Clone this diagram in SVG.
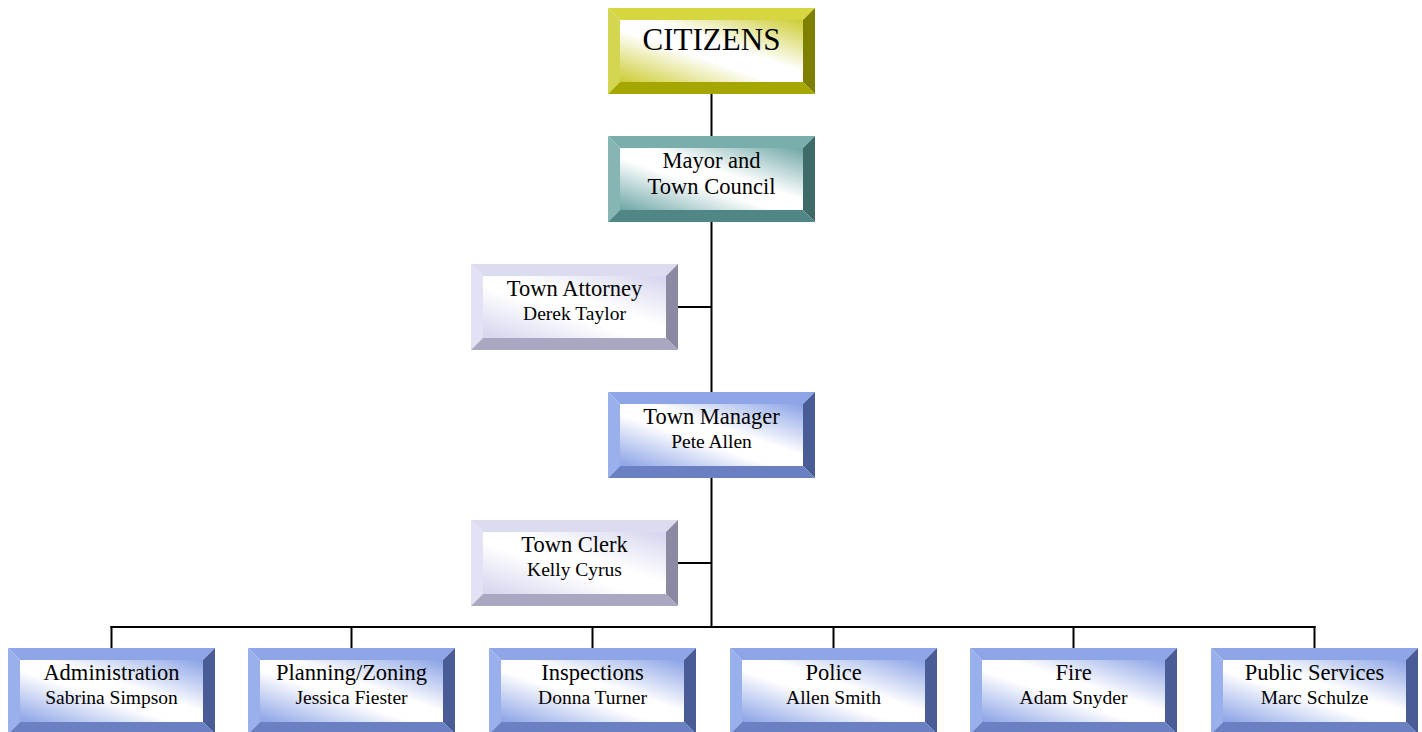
<svg xmlns="http://www.w3.org/2000/svg" xmlns:xlink="http://www.w3.org/1999/xlink" width="1422" height="732" viewBox="0 0 1422 732">
<style>
text{font-family:"Liberation Serif","Times New Roman",serif;fill:#000;text-anchor:middle}
.t1{font-size:22.5px}
.t2{font-size:19.5px}
.big{font-size:31px}
.mt{font-size:22.5px}
.conn line{stroke:#000;stroke-width:2;fill:none}
</style>
<defs>
<linearGradient id="gY" x1="1" y1="0" x2="0" y2="1"><stop offset="0" stop-color="#cccc33"/><stop offset="0.42" stop-color="#fff"/><stop offset="0.58" stop-color="#fff"/><stop offset="1" stop-color="#cccc33"/></linearGradient>
<linearGradient id="gT" x1="1" y1="0" x2="0" y2="1"><stop offset="0" stop-color="#6fa6a6"/><stop offset="0.42" stop-color="#fff"/><stop offset="0.58" stop-color="#fff"/><stop offset="1" stop-color="#6fa6a6"/></linearGradient>
<linearGradient id="gL" x1="1" y1="0" x2="0" y2="1"><stop offset="0" stop-color="#d4d4ee"/><stop offset="0.42" stop-color="#fff"/><stop offset="0.58" stop-color="#fff"/><stop offset="1" stop-color="#d4d4ee"/></linearGradient>
<linearGradient id="gB" x1="1" y1="0" x2="0" y2="1"><stop offset="0" stop-color="#8aa2e6"/><stop offset="0.42" stop-color="#fff"/><stop offset="0.58" stop-color="#fff"/><stop offset="1" stop-color="#8aa2e6"/></linearGradient>
<g id="boxY">
<polygon points="0,0 207,0 195,12 12,12" fill="#d6d640"/>
<polygon points="0,0 12,12 12,74 0,86" fill="#d2d650"/>
<polygon points="207,0 207,86 195,74 195,12" fill="#7e7e00"/>
<polygon points="0,86 12,74 195,74 207,86" fill="#a6a600"/>
<rect x="12" y="12" width="183" height="62" fill="url(#gY)"/>
</g>
<g id="boxT">
<polygon points="0,0 207,0 195,12 12,12" fill="#7aaeac"/>
<polygon points="0,0 12,12 12,74 0,86" fill="#86b6b4"/>
<polygon points="207,0 207,86 195,74 195,12" fill="#3e6a6a"/>
<polygon points="0,86 12,74 195,74 207,86" fill="#508786"/>
<rect x="12" y="12" width="183" height="62" fill="url(#gT)"/>
</g>
<g id="boxL">
<polygon points="0,0 207,0 195,12 12,12" fill="#dcdcf0"/>
<polygon points="0,0 12,12 12,74 0,86" fill="#e2e2f4"/>
<polygon points="207,0 207,86 195,74 195,12" fill="#8a8aa2"/>
<polygon points="0,86 12,74 195,74 207,86" fill="#a8a8c2"/>
<rect x="12" y="12" width="183" height="62" fill="url(#gL)"/>
</g>
<g id="boxB">
<polygon points="0,0 207,0 195,12 12,12" fill="#8ea6e8"/>
<polygon points="0,0 12,12 12,74 0,86" fill="#9ab0ec"/>
<polygon points="207,0 207,86 195,74 195,12" fill="#4a5c96"/>
<polygon points="0,86 12,74 195,74 207,86" fill="#6a80c2"/>
<rect x="12" y="12" width="183" height="62" fill="url(#gB)"/>
</g>
</defs>
<rect width="1422" height="732" fill="#fff"/>
<g id="connectors" class="conn">
<line x1="711.5" y1="94" x2="711.5" y2="628"/>
<line x1="678" y1="307" x2="711.5" y2="307"/>
<line x1="678" y1="563" x2="711.5" y2="563"/>
<line x1="110.5" y1="627" x2="1315.5" y2="627"/>
<line x1="111.5" y1="626" x2="111.5" y2="648"/>
<line x1="351.5" y1="626" x2="351.5" y2="648"/>
<line x1="592.5" y1="626" x2="592.5" y2="648"/>
<line x1="833.5" y1="626" x2="833.5" y2="648"/>
<line x1="1073.5" y1="626" x2="1073.5" y2="648"/>
<line x1="1314.5" y1="626" x2="1314.5" y2="648"/>
</g>
<g id="citizens" transform="translate(608,8)"><use xlink:href="#boxY"/><text class="big" x="103.5" y="42">CITIZENS</text></g>
<g id="mayor" transform="translate(608,136)"><use xlink:href="#boxT"/><text class="mt" x="103.5" y="32">Mayor and</text><text class="mt" x="103.5" y="58">Town Council</text></g>
<g id="attorney" transform="translate(471,264)"><use xlink:href="#boxL"/><text class="t1" x="103.5" y="32">Town Attorney</text><text class="t2" x="103.5" y="56">Derek Taylor</text></g>
<g id="manager" transform="translate(608,392)"><use xlink:href="#boxB"/><text class="mt" x="103.5" y="32">Town Manager</text><text class="t2" x="103.5" y="56">Pete Allen</text></g>
<g id="clerk" transform="translate(471,520)"><use xlink:href="#boxL"/><text class="t1" x="103.5" y="32">Town Clerk</text><text class="t2" x="103.5" y="56">Kelly Cyrus</text></g>
<g id="administration" transform="translate(8,648)"><use xlink:href="#boxB"/><text class="t1" x="103.5" y="32">Administration</text><text class="t2" x="103.5" y="56">Sabrina Simpson</text></g>
<g id="planning" transform="translate(248,648)"><use xlink:href="#boxB"/><text class="t1" x="103.5" y="32">Planning/Zoning</text><text class="t2" x="103.5" y="56">Jessica Fiester</text></g>
<g id="inspections" transform="translate(489,648)"><use xlink:href="#boxB"/><text class="t1" x="103.5" y="32">Inspections</text><text class="t2" x="103.5" y="56">Donna Turner</text></g>
<g id="police" transform="translate(730,648)"><use xlink:href="#boxB"/><text class="t1" x="103.5" y="32">Police</text><text class="t2" x="103.5" y="56">Allen Smith</text></g>
<g id="fire" transform="translate(970,648)"><use xlink:href="#boxB"/><text class="t1" x="103.5" y="32">Fire</text><text class="t2" x="103.5" y="56">Adam Snyder</text></g>
<g id="public-services" transform="translate(1211,648)"><use xlink:href="#boxB"/><text class="t1" x="103.5" y="32">Public Services</text><text class="t2" x="103.5" y="56">Marc Schulze</text></g>
</svg>
